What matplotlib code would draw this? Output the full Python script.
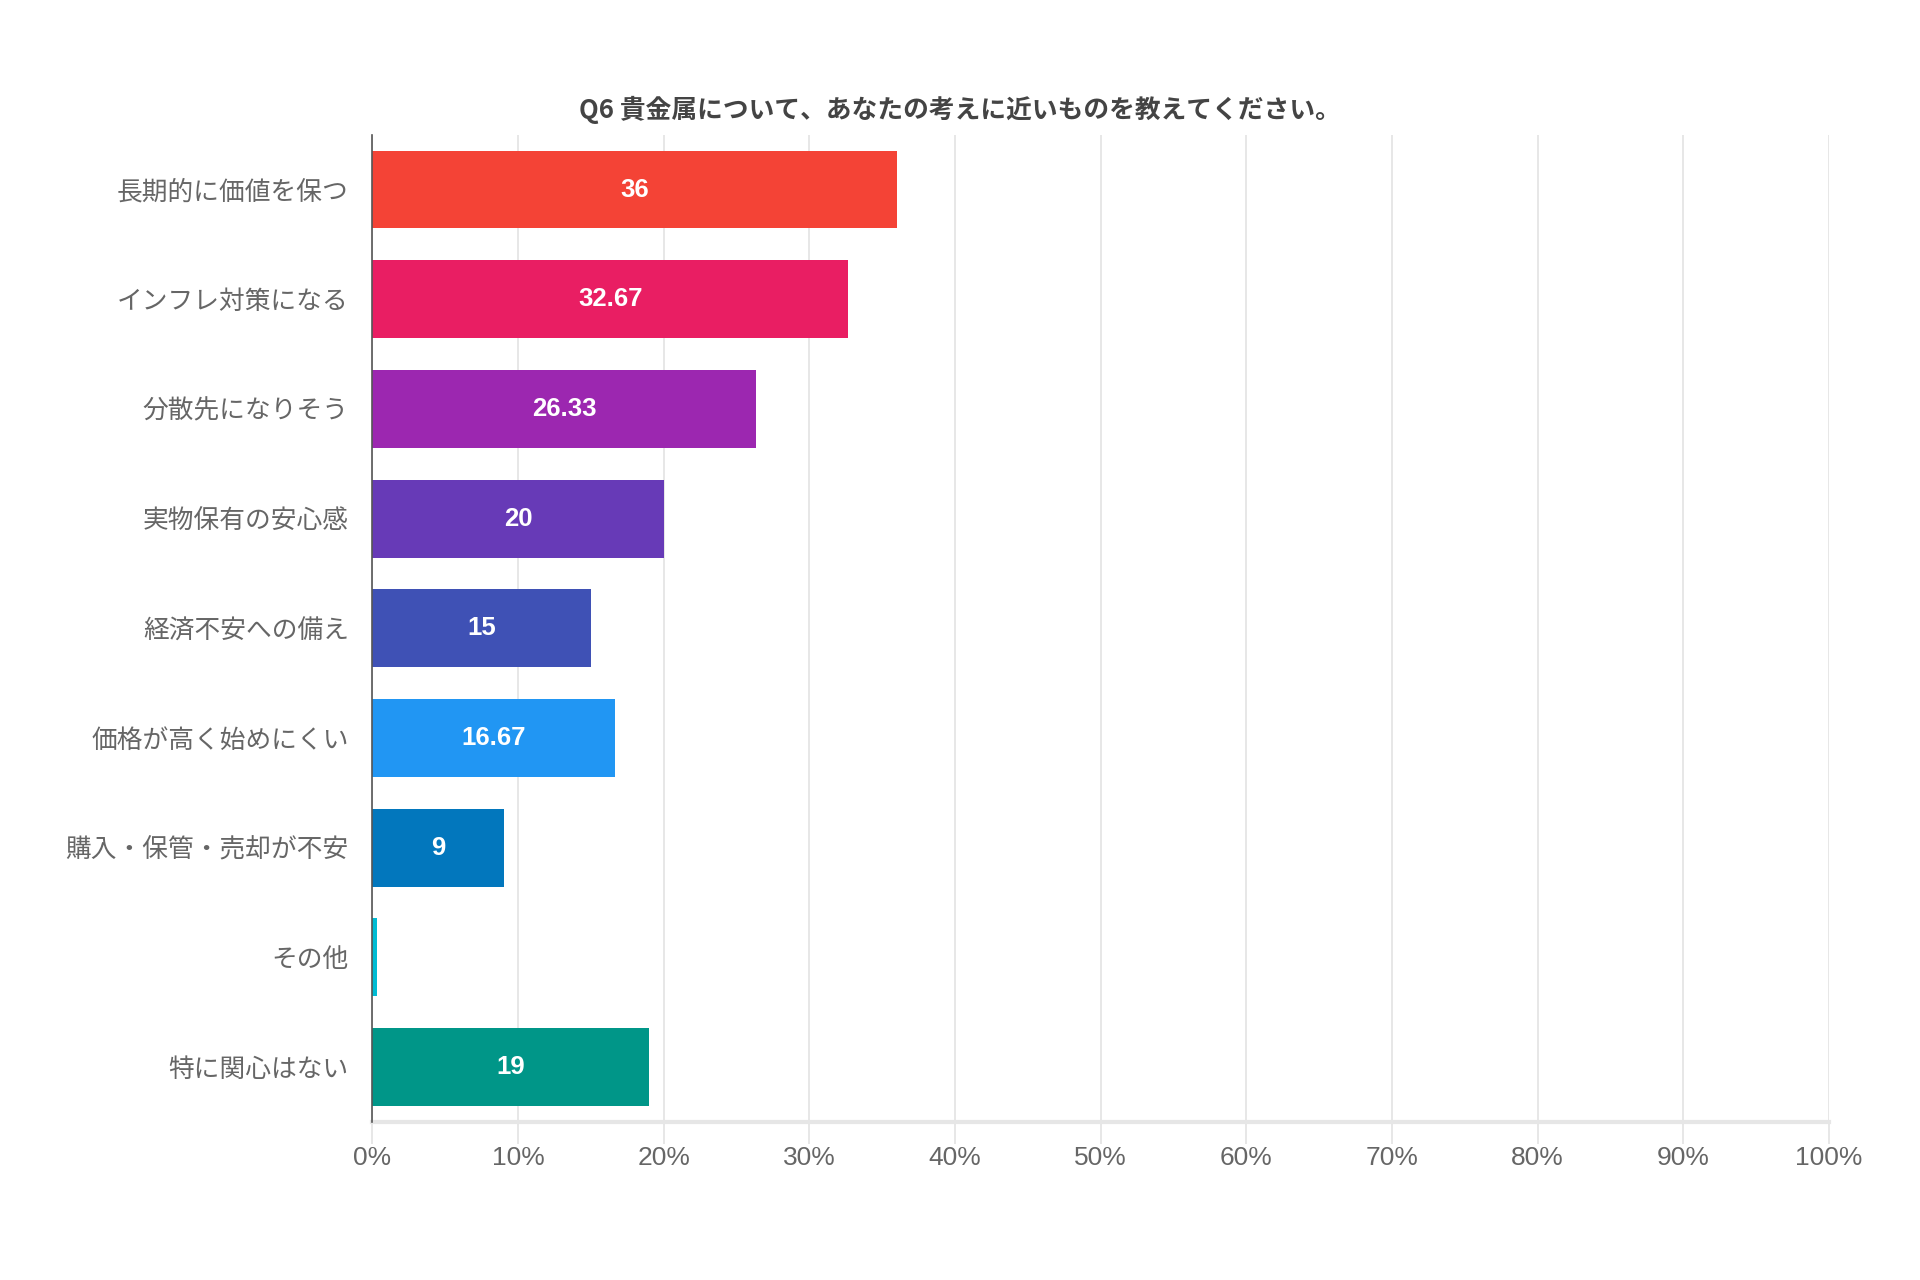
import matplotlib
matplotlib.use("Agg")
import matplotlib.pyplot as plt
from matplotlib.ticker import FixedLocator, FuncFormatter

plt.rcParams['font.family'] = ['Noto Sans CJK JP', 'DejaVu Sans']

title = "Q6 貴金属について、あなたの考えに近いものを教えてください。"
categories = ["長期的に価値を保つ", "インフレ対策になる", "分散先になりそう", "実物保有の安心感",
              "経済不安への備え", "価格が高く始めにくい", "購入・保管・売却が不安", "その他", "特に関心はない"]
values = [36, 32.67, 26.33, 20, 15, 16.67, 9, 0.3, 19]
value_labels = ["36", "32.67", "26.33", "20", "15", "16.67", "9", "", "19"]
colors = ["#F44336", "#E91E63", "#9C27B0", "#673AB7", "#3F51B5", "#2196F3", "#0277BD", "#00BCD4", "#009688"]
x_ticks = [0, 10, 20, 30, 40, 50, 60, 70, 80, 90, 100]

fig = plt.figure(figsize=(19.2, 12.8), dpi=100)
ax = fig.add_axes([0.194, 0.1235, 0.7586, 0.7713])

ypos = list(range(len(categories)))
bars = ax.barh(ypos, values, height=0.71, color=colors, zorder=3)

for b, lab in zip(bars, value_labels):
    if lab:
        ax.text(b.get_width() / 2, b.get_y() + b.get_height() / 2, lab,
                ha='center', va='center', color='white', fontsize=18.5,
                fontweight='bold', family=['Liberation Sans', 'DejaVu Sans'], zorder=4)

ax.set_ylim(len(categories) - 0.5, -0.5)
ax.set_xlim(0, 100)
ax.set_yticks(ypos)
ax.set_yticklabels(categories, fontsize=18.5, color='#666666')
ax.tick_params(axis='y', length=0, pad=17)

ax.xaxis.set_major_locator(FixedLocator(x_ticks))
ax.xaxis.set_major_formatter(FuncFormatter(lambda v, p: f"{int(v)}%"))
ax.tick_params(axis='x', length=16, width=1.2, color='#e3e3e3', labelsize=19,
               labelcolor='#666666', pad=1)
for t in ax.get_xticklabels():
    t.set_family(['Liberation Sans', 'DejaVu Sans'])

ax.grid(axis='x', color='#e3e3e3', linewidth=1.2, zorder=0)
ax.set_axisbelow(True)

for s in ['top', 'right']:
    ax.spines[s].set_visible(False)
ax.spines['left'].set_color('#555555')
ax.spines['left'].set_linewidth(1.2)
ax.spines['left'].set_zorder(5)
ax.spines['bottom'].set_color('#e6e6e6')
ax.spines['bottom'].set_linewidth(3)

fig.text(0.5, 0.914, title, ha='center', va='center', fontsize=18.5,
         fontweight='bold', color='#444444')

fig.savefig("out.png", dpi=100, facecolor='white')
